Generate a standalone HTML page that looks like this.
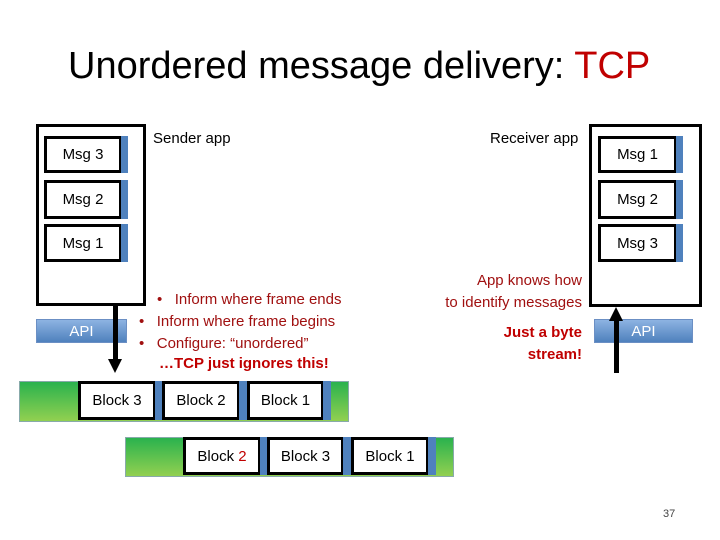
<!DOCTYPE html>
<html><head><meta charset="utf-8"><style>
body{margin:0;width:720px;height:540px;background:#fff;position:relative;overflow:hidden;font-family:"Liberation Sans",sans-serif}
.a{position:absolute;box-sizing:border-box}
.t{position:absolute;white-space:nowrap;font-size:15px}
.m{position:absolute;box-sizing:border-box;border:3px solid #000;background:#fff;font-size:15px;display:flex;align-items:center;justify-content:center}
.b{position:absolute;background:#4f81bd}
.g{position:absolute;background:linear-gradient(#2ab24e,#92d050);border:1px solid #8aa}
.api{position:absolute;box-sizing:border-box;background:linear-gradient(#8db3e2,#4f81bd);border:1px solid #6b8fc4;color:#fff;font-size:15px;display:flex;align-items:center;justify-content:center}
.r{color:#c00000}
</style></head><body>
<div class="t" style="left:68px;top:45px;font-size:38px">Unordered message delivery: <span class="r">TCP</span></div>

<div class="a" style="left:36px;top:124px;width:110px;height:182px;border:3px solid #000"></div>
<div class="m" style="left:44px;top:136px;width:78px;height:37px">Msg 3</div><div class="b" style="left:121px;top:136px;width:7px;height:37px"></div>
<div class="m" style="left:44px;top:180px;width:78px;height:39px">Msg 2</div><div class="b" style="left:121px;top:180px;width:7px;height:39px"></div>
<div class="m" style="left:44px;top:224px;width:78px;height:38px">Msg 1</div><div class="b" style="left:121px;top:224px;width:7px;height:38px"></div>
<div class="t" style="left:153px;top:130px">Sender app</div>
<div class="api" style="left:36px;top:319px;width:91px;height:24px">API</div>
<div class="a" style="left:113px;top:305px;width:5px;height:56px;background:#000"></div>
<div class="a" style="left:108px;top:359px;width:0;height:0;border-left:7.5px solid transparent;border-right:7.5px solid transparent;border-top:14px solid #000"></div>

<div class="t r" style="left:157px;top:291px;color:#a01010">•&nbsp;&nbsp; Inform where frame ends</div>
<div class="t r" style="left:139px;top:313px;color:#a01010">•&nbsp;&nbsp; Inform where frame begins</div>
<div class="t r" style="left:139px;top:335px;color:#a01010">•&nbsp;&nbsp; Configure: “unordered”</div>
<div class="t r" style="left:159px;top:355px;font-weight:bold">…TCP just ignores this!</div>

<div class="g" style="left:19px;top:381px;width:328px;height:39px"></div>
<div class="m" style="left:78px;top:381px;width:78px;height:39px">Block 3</div><div class="b" style="left:155px;top:381px;width:7px;height:39px"></div>
<div class="m" style="left:162px;top:381px;width:78px;height:39px">Block 2</div><div class="b" style="left:239px;top:381px;width:8px;height:39px"></div>
<div class="m" style="left:247px;top:381px;width:77px;height:39px">Block 1</div><div class="b" style="left:323px;top:381px;width:8px;height:39px"></div>

<div class="g" style="left:125px;top:437px;width:327px;height:38px"></div>
<div class="m" style="left:183px;top:437px;width:78px;height:38px">Block&nbsp;<span class="r">2</span></div><div class="b" style="left:260px;top:437px;width:7px;height:38px"></div>
<div class="m" style="left:267px;top:437px;width:77px;height:38px">Block 3</div><div class="b" style="left:343px;top:437px;width:8px;height:38px"></div>
<div class="m" style="left:351px;top:437px;width:78px;height:38px">Block 1</div><div class="b" style="left:428px;top:437px;width:8px;height:38px"></div>

<div class="a" style="left:589px;top:124px;width:113px;height:183px;border:3px solid #000"></div>
<div class="m" style="left:598px;top:136px;width:79px;height:37px">Msg 1</div><div class="b" style="left:676px;top:136px;width:7px;height:37px"></div>
<div class="m" style="left:598px;top:180px;width:79px;height:39px">Msg 2</div><div class="b" style="left:676px;top:180px;width:7px;height:39px"></div>
<div class="m" style="left:598px;top:224px;width:79px;height:38px">Msg 3</div><div class="b" style="left:676px;top:224px;width:7px;height:38px"></div>
<div class="t" style="left:490px;top:130px">Receiver app</div>
<div class="api" style="left:594px;top:319px;width:99px;height:24px">API</div>
<div class="a" style="left:614px;top:320px;width:5px;height:53px;background:#000"></div>
<div class="a" style="left:609px;top:307px;width:0;height:0;border-left:7.5px solid transparent;border-right:7.5px solid transparent;border-bottom:14px solid #000"></div>

<div class="t" style="left:432px;top:270px;width:150px;text-align:right;color:#a01010;line-height:22px">App knows how<br>to identify messages</div>
<div class="t r" style="left:432px;top:322px;width:150px;text-align:right;font-weight:bold;line-height:22px">Just a byte<br>stream!</div>

<div class="t" style="left:663px;top:508px;font-size:11px;color:#444">37</div>
</body></html>
